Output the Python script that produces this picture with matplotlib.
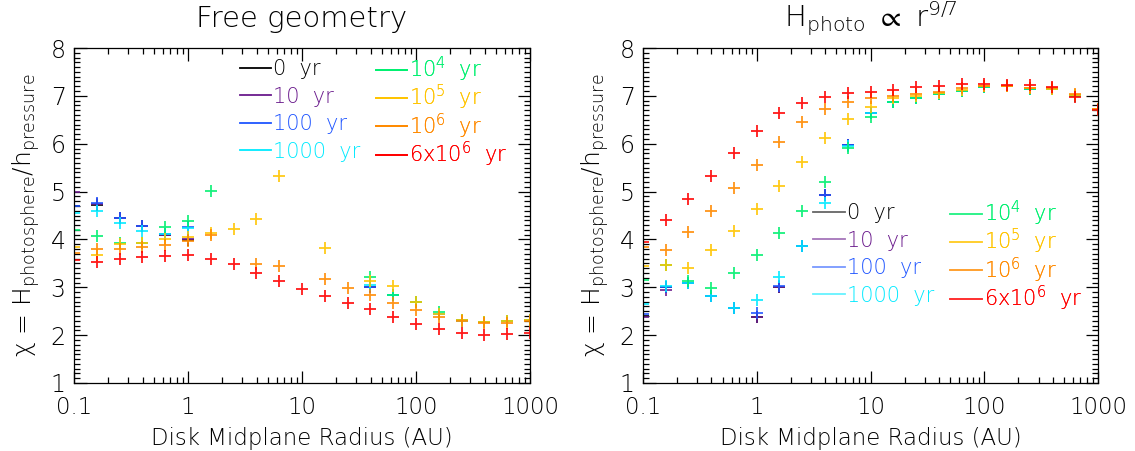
import numpy as np
import matplotlib
matplotlib.use("Agg")
import matplotlib.pyplot as plt
from matplotlib.lines import Line2D
from matplotlib.ticker import FixedLocator, FuncFormatter, MultipleLocator, LogLocator, NullFormatter

plt.rcParams["font.family"] = ["DejaVu Sans"]
plt.rcParams["font.weight"] = "light"
plt.rcParams["axes.titleweight"] = "light"
plt.rcParams["axes.labelweight"] = "light"
plt.rcParams["mathtext.fontset"] = "custom"
plt.rcParams["mathtext.rm"] = "DejaVu Sans:light"
plt.rcParams["mathtext.it"] = "DejaVu Sans:light"
plt.rcParams["mathtext.default"] = "regular"

nan = np.nan

# radius grid: 5 points per decade from 0.1 to 1000 AU
radius = [0.1, 0.158, 0.251, 0.398, 0.631, 1.0, 1.58, 2.51, 3.98, 6.31,
          10.0, 15.8, 25.1, 39.8, 63.1, 100.0, 158.0, 251.0, 398.0, 631.0, 1000.0]

labels = ["0  yr", "10  yr", "100  yr", "1000  yr",
          r"10$^4$  yr", r"10$^5$  yr", r"10$^6$  yr", r"6x10$^6$  yr"]
colors = ["#000000", "#6a1a8c", "#1f55ff", "#00eaff",
          "#00f070", "#ffc400", "#ff8a00", "#ff0000"]

# --- free geometry panel ---
free_0yr = [4.70, 4.72, 4.45, 4.28, 4.10, 3.99, nan, nan, nan, nan, nan, nan, nan,
            3.00, 2.84, 2.69, 2.45, 2.32, 2.27, 2.30, 2.32]
free_10yr = [5.00, 4.74, 4.45, 4.28, 4.10, 4.00, nan, nan, nan, nan, nan, nan, nan,
             3.00, 2.84, 2.69, 2.45, 2.32, 2.27, 2.30, 2.32]
free_100yr = [4.70, 4.76, 4.45, 4.28, 4.12, 4.25, nan, nan, nan, nan, nan, nan, nan,
              3.00, 2.84, 2.69, 2.45, 2.32, 2.27, 2.30, 2.32]
free_1000yr = [4.55, 4.59, 4.34, 4.18, 4.12, 4.24, nan, nan, nan, nan, nan, nan, nan,
               3.05, 2.84, 2.69, 2.45, 2.30, 2.27, 2.30, 2.32]
free_1e4 = [4.20, 4.07, 3.92, 3.92, 4.26, 4.38, 5.01, nan, nan, nan, nan, nan, nan,
            3.21, 2.84, 2.69, 2.48, 2.32, 2.27, 2.30, 2.32]
free_1e5 = [3.84, 3.67, 3.90, 3.92, 4.00, 4.06, 4.13, 4.21, 4.43, 5.32, nan, 3.82, nan,
            3.13, 3.03, 2.69, 2.45, 2.32, 2.27, 2.30, 2.32]
free_1e6 = [3.72, 3.80, 3.80, 3.84, 3.88, 3.97, 4.10, nan, 3.48, 3.45, nan, 3.17, 2.99,
            2.84, 2.67, 2.53, 2.38, 2.30, 2.25, 2.25, 2.30]
free_6e6 = [3.57, 3.53, 3.59, 3.64, 3.65, 3.67, 3.60, 3.48, 3.30, 3.13, 2.96, 2.82, 2.67,
            2.55, 2.38, 2.23, 2.12, 2.04, 2.00, 2.02, 2.05]

# --- H_photo ~ r^(9/7) panel ---
fixed_0yr = [2.40, 3.00, 3.10, 2.82, 2.57, 2.38, 3.00, 3.86, 4.93, 5.97, 6.64, 6.87, 6.95,
             7.04, 7.10, 7.18, 7.20, 7.15, 7.15, 7.00, 6.70]
fixed_10yr = [2.38, 2.95, 3.10, 2.82, 2.57, 2.38, 3.00, 3.86, 4.93, 5.97, 6.64, 6.87, 6.95,
              7.04, 7.10, 7.18, 7.20, 7.15, 7.15, 7.00, 6.70]
fixed_100yr = [2.45, 3.00, 3.10, 2.82, 2.57, 2.46, 3.03, 3.86, 4.93, 5.97, 6.64, 6.87, 6.95,
               7.04, 7.10, 7.18, 7.20, 7.15, 7.15, 7.00, 6.70]
fixed_1000yr = [2.65, 3.02, 3.10, 2.82, 2.57, 2.73, 3.21, 3.86, 4.76, 5.95, 6.64, 6.87, 6.95,
                7.04, 7.10, 7.18, 7.20, 7.15, 7.15, 7.00, 6.70]
fixed_1e4 = [3.15, 3.47, 3.13, 2.98, 3.30, 3.67, 4.13, 4.60, 5.20, 5.91, 6.56, 6.87, 6.95,
             7.04, 7.10, 7.18, 7.20, 7.15, 7.15, 7.00, 6.70]
fixed_1e5 = [3.45, 3.47, 3.41, 3.78, 4.18, 4.64, 5.12, 5.62, 6.12, 6.52, 6.77, 6.95, 7.00,
             7.06, 7.13, 7.20, 7.20, 7.16, 7.15, 7.02, 6.72]
fixed_1e6 = [3.85, 3.78, 4.16, 4.59, 5.07, 5.55, 6.04, 6.45, 6.72, 6.87, 6.95, 7.00, 7.04,
             7.08, 7.16, 7.20, 7.20, 7.16, 7.16, 7.04, 6.72]
fixed_6e6 = [3.95, 4.41, 4.84, 5.32, 5.81, 6.27, 6.64, 6.85, 6.97, 7.06, 7.08, 7.12, 7.18,
             7.20, 7.25, 7.25, 7.23, 7.23, 7.18, 6.98, 6.70]

free_series = [free_0yr, free_10yr, free_100yr, free_1000yr,
               free_1e4, free_1e5, free_1e6, free_6e6]
fixed_series = [fixed_0yr, fixed_10yr, fixed_100yr, fixed_1000yr,
                fixed_1e4, fixed_1e5, fixed_1e6, fixed_6e6]

x_ticks = [0.1, 1, 10, 100, 1000]

fig = plt.figure(figsize=(11.35, 4.51), dpi=100)
ax1 = fig.add_axes([74 / 1135, 68 / 451, 456 / 1135, 335 / 451])
ax2 = fig.add_axes([643 / 1135, 68 / 451, 455 / 1135, 335 / 451])

ylabel = r"$\chi$ = H$_{photosphere}$/h$_{pressure}$"


def style_axes(ax):
    ax.set_xscale("log")
    ax.set_xlim(0.1, 1000)
    ax.set_ylim(1, 8)
    ax.xaxis.set_major_locator(FixedLocator(x_ticks))
    ax.xaxis.set_major_formatter(FuncFormatter(lambda v, p: "%g" % v))
    ax.xaxis.set_minor_locator(LogLocator(base=10, subs=np.arange(2, 10)))
    ax.xaxis.set_minor_formatter(NullFormatter())
    ax.yaxis.set_major_locator(MultipleLocator(1))
    ax.yaxis.set_minor_locator(MultipleLocator(0.1))
    ax.tick_params(which="both", direction="in", top=True, right=True, width=0.9)
    ax.tick_params(which="major", length=9)
    ax.tick_params(which="minor", length=4)
    ax.tick_params(axis="x", labelsize=16.5, pad=9)
    ax.tick_params(axis="y", labelsize=17, pad=6)
    for sp in ax.spines.values():
        sp.set_linewidth(0.9)
    ax.set_xlabel("Disk Midplane Radius (AU)", fontsize=16.5, labelpad=6)
    ax.set_ylabel(ylabel, fontsize=18, labelpad=6)


def legend_column(ax, idx, anchor, spacing, line_alpha):
    handles = [Line2D([0], [0], color=colors[i], lw=1.3, alpha=line_alpha) for i in idx]
    leg = ax.legend(handles, [labels[i] for i in idx], loc="upper left",
                    bbox_to_anchor=anchor, frameon=False, fontsize=15,
                    handlelength=1.5, handletextpad=0.1, labelspacing=spacing,
                    borderaxespad=0)
    for txt, i in zip(leg.get_texts(), idx):
        txt.set_color(colors[i])
    ax.add_artist(leg)


def draw_panel(ax, series, line_alpha, x1, x2, ytop):
    for vals, col in zip(series, colors):
        ax.plot(radius, vals, linestyle="none", marker="+", markersize=8,
                markeredgewidth=1.3, color=col, alpha=0.9)
    legend_column(ax, [0, 1, 2, 3], (x1, ytop), 0.36, line_alpha)
    legend_column(ax, [4, 5, 6, 7], (x2, ytop + 0.012), -0.05, line_alpha)


style_axes(ax1)
style_axes(ax2)
draw_panel(ax1, free_series, 1.0, 0.346, 0.643, 0.992)
draw_panel(ax2, fixed_series, 0.6, 0.356, 0.657, 0.562)

ax1.set_title("Free geometry", fontsize=21, pad=15)
ax2.set_title(r"H$_{photo}$ $\propto$ r$^{9/7}$", fontsize=21, pad=15)

fig.savefig("out.png", dpi=100)
